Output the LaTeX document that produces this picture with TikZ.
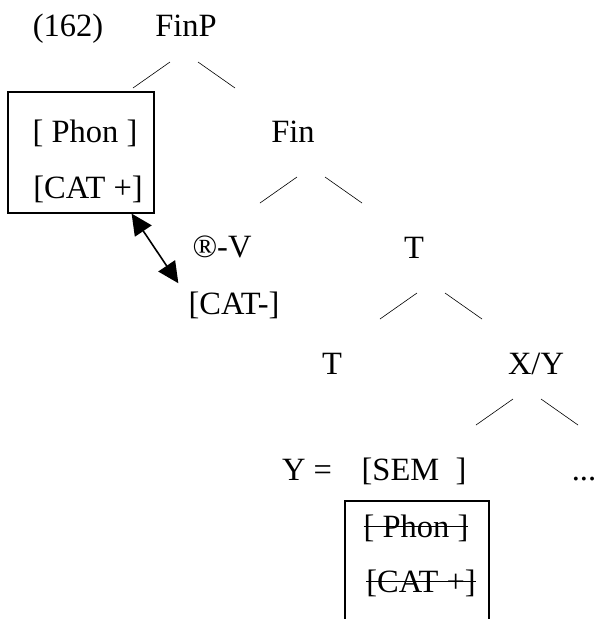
\documentclass[tikz,border=0pt]{standalone}
\usepackage{fontspec}
\setmainfont{Liberation Serif}
\usetikzlibrary{arrows.meta}
\tikzset{>=latex}
\tikzset{
  word/.style={inner sep=0pt, anchor=base},
  branch/.style={line width=0.6pt},
  featbox/.style={draw, line width=1.2pt, inner sep=0pt},
  linkarrow/.style={{Triangle[length=21pt,width=20pt]}-{Triangle[length=21pt,width=20pt]}, line width=1.6pt},
}
\newcommand{\struck}[1]{\setbox0\hbox{#1}\rlap{\rule[0.31em]{\wd0}{1.4pt}}\box0}

\begin{document}
\begin{tikzpicture}[x=1pt, y=-1pt, font=\fontsize{32.5pt}{38pt}\selectfont]
    \useasboundingbox (0,0) rectangle (595,619);

    % top of the tree
    \node[word] (ex) at (68,36) {(162)};
    \node[word] (finp) at (186,36) {FinP};
    \node[featbox, minimum width=146pt, minimum height=121pt] (box1) at (81,152.5) {};
    \node[word] (phon) at (85,142) {[ Phon ]};
    \node[word] (catplus) at (88,198.5) {[CAT +]};
    \node[word] (fin) at (293,142) {Fin};
    \node[word] (rv) at (222,257) {®-V};
    \node[word] (catminus) at (234,314) {[CAT-]};
    \node[word] (tup) at (414,258) {T};

    % lower part
    \node[word] (tlow) at (332,374) {T};
    \node[word] (xy) at (536,374) {X/Y};
    \node[word] (yeq) at (307,480) {Y =};
    \node[word] (sem) at (414,480) {[SEM \ ]};
    \node[word] (dots) at (584,480) {...};
    \node[word] (phonx) at (416,537) {\struck{[ Phon ]}};
    \node[word] (catx) at (421,592) {\struck{[CAT +]}};
    \draw[featbox] (345,622) -- (345,501) -- (489,501) -- (489,622);

    % branches
    \foreach \n/\dx/\dy in {finp/-16/26, fin/4/35, tup/3/35, xy/-23/25}{
        \draw[branch] ([shift={(\dx,\dy)}]\n.base) -- ++(-37,26);
        \draw[branch] ([shift={(\dx+28,\dy)}]\n.base) -- ++(37,26);
    }

    \draw[linkarrow] ([xshift=-23pt]box1.south east) -- ([shift={(-10pt,8pt)}]catminus.north west);

\end{tikzpicture}
\end{document}
